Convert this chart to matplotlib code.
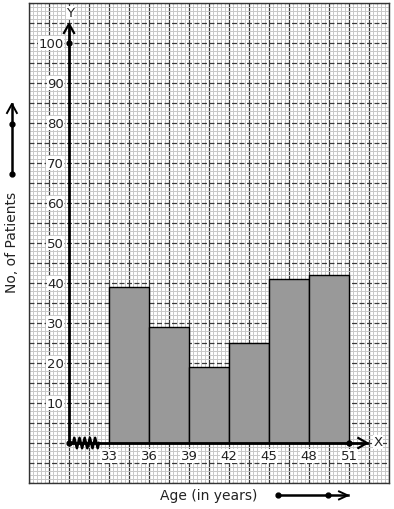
import numpy as np
import matplotlib
matplotlib.use("Agg")
import matplotlib.pyplot as plt
from matplotlib.ticker import MultipleLocator

# Data
age_edges = [33, 36, 39, 42, 45, 48, 51]
patients = [39, 29, 19, 25, 41, 42]
y_tick_values = [10, 20, 30, 40, 50, 60, 70, 80, 90, 100]
x_label_text = "Age (in years)"
y_label_text = "No, of Patients"

fig = plt.figure(figsize=(3.94, 5.10), dpi=100)
ax = fig.add_axes([29 / 394, 26 / 510, 360 / 394, 480 / 510])
ax.set_xlim(27, 54)
ax.set_ylim(-10, 110)

# graph paper
ax.xaxis.set_minor_locator(MultipleLocator(0.3))
ax.yaxis.set_minor_locator(MultipleLocator(1))
ax.xaxis.set_major_locator(MultipleLocator(1.5))
ax.yaxis.set_major_locator(MultipleLocator(5))
ax.grid(which="minor", color="#c8c8c8", lw=0.7, zorder=0)
ax.grid(which="major", axis="x", color="#3a3a3a", lw=0.9, zorder=0.5)
ax.grid(which="major", axis="y", color="#3a3a3a", lw=0.9, ls=(0, (4, 2)), zorder=0.5)
ax.tick_params(which="both", length=0, labelbottom=False, labelleft=False)
ax.set_axisbelow(True)
for s in ax.spines.values():
    s.set_color("#333333")
    s.set_linewidth(1)

# bars
widths = np.diff(age_edges)
ax.bar(age_edges[:-1], patients, width=widths, align="edge",
       color="#999999", edgecolor="black", lw=1, zorder=3)

# axes lines
ax.plot([30, 30], [0, 104.75], color="black", lw=2, zorder=5, solid_capstyle="butt")
ax.plot([29.62, 30, 30.38], [102.5, 104.75, 102.5], color="black", lw=1.6, zorder=5)
ax.plot([30, 52.35], [0, 0], color="black", lw=2, zorder=5)
ax.plot([51.7, 52.35, 51.7], [1.25, 0, -1.25], color="black", lw=1.6, zorder=5)
ax.plot([30, 30, 51], [100, 0, 0], "o", color="black", ms=3.5, zorder=6)

# zigzag break
zx = np.linspace(30.3, 32.25, 21)
zy = np.tile([0, 1.3, 0, -1.3], 6)[:21]
ax.plot(zx, zy, color="black", lw=1.8, zorder=6)

# tick labels
for v in y_tick_values:
    ax.text(29.6, v, str(v), ha="right", va="center", fontsize=9.5, color="#222222",
            zorder=7, bbox=dict(facecolor="white", edgecolor="none", pad=0.3))
for e in age_edges:
    ax.text(e, -3.2, str(e), ha="center", va="center", fontsize=9.5, color="#222222",
            zorder=7, bbox=dict(facecolor="white", edgecolor="none", pad=0.3))

ax.text(30.07, 107.6, "Y", ha="center", va="center", fontsize=9.5, color="#222222",
        zorder=7, bbox=dict(facecolor="white", edgecolor="none", pad=0.3))
ax.text(53.2, 0.3, "X", ha="center", va="center", fontsize=9.5, color="#222222",
        zorder=7, bbox=dict(facecolor="white", edgecolor="none", pad=0.3))

# axis titles (outside)
ax.text(40.5, -13.1, x_label_text, ha="center", va="center", fontsize=10,
        color="#222222", clip_on=False)
ax.text(25.72, 50.3, y_label_text, ha="center", va="center", rotation=90,
        fontsize=10, color="#222222", clip_on=False)

# side arrows
ax.plot([25.72, 25.72], [67.25, 84.75], color="black", lw=1.8, clip_on=False)
ax.plot([25.35, 25.72, 26.09], [82.5, 84.75, 82.5], color="black", lw=1.4, clip_on=False)
ax.plot([25.72, 25.72], [67.25, 79.75], "o", color="black", ms=3.5, clip_on=False)

ax.plot([45.67, 50.9], [-13.1, -13.1], color="black", lw=1.8, clip_on=False)
ax.plot([50.25, 50.9, 50.25], [-12.1, -13.1, -14.1], color="black", lw=1.4, clip_on=False)
ax.plot([45.67, 49.42], [-13.1, -13.1], "o", color="black", ms=3.5, clip_on=False)

fig.savefig("out.png", dpi=100)
